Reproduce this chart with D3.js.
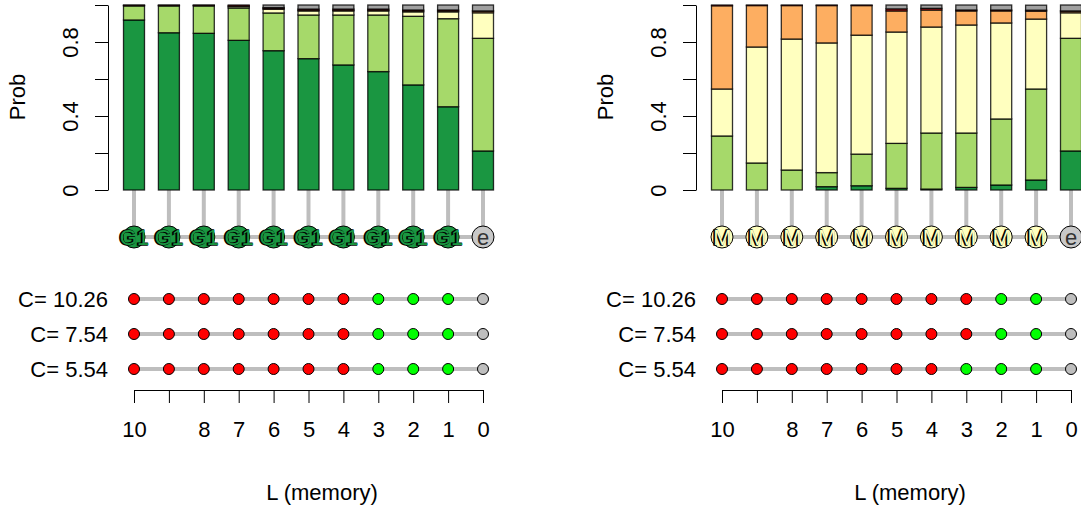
<!DOCTYPE html>
<html>
<head>
<meta charset="utf-8">
<script src="https://cdn.jsdelivr.net/npm/d3@7"></script>
<style>
  body { margin: 0; background: #fff; }
  svg { font-family: "Liberation Sans", Arial, sans-serif; }
</style>
</head>
<body>
<div id="container"></div>
<script>
const width = 1081,
  height = 511

/* DATA */
const memory = [10, 9, 8, 7, 6, 5, 4, 3, 2, 1, 0]
const tickLabels = ["10", "", "8", "7", "6", "5", "4", "3", "2", "1", "0"]
const categories = ["G1", "G2", "M", "B1", "B2", "e"]
const catColors = ["#1A9641", "#A6D96A", "#FFFFBF", "#FDAE61", "#D7191C", "#A0A0A0"]
const rowLabels = ["C= 10.26", "C= 7.54", "C= 5.54"]

// left panel
const leftG1 = [0.919, 0.850, 0.847, 0.809, 0.753, 0.710, 0.676, 0.640, 0.568, 0.450, 0.211]
const leftG2 = [0.076, 0.145, 0.148, 0.175, 0.204, 0.236, 0.270, 0.306, 0.371, 0.476, 0.609]
const leftM  = [0.003, 0.003, 0.003, 0.008, 0.020, 0.022, 0.022, 0.022, 0.024, 0.037, 0.138]
const leftB1 = [0, 0, 0, 0.004, 0.005, 0.004, 0.004, 0.004, 0.005, 0.005, 0.009]
const leftB2 = [0.002, 0.002, 0.002, 0.004, 0.004, 0.006, 0.006, 0.006, 0.005, 0.005, 0.001]
const leftE  = [0, 0, 0, 0, 0.014, 0.022, 0.022, 0.022, 0.027, 0.027, 0.032]
const leftNodes = ["G1", "G1", "G1", "G1", "G1", "G1", "G1", "G1", "G1", "G1", "e"]
const leftDots = [
  ["r", "r", "r", "r", "r", "r", "r", "g", "g", "g", "e"],
  ["r", "r", "r", "r", "r", "r", "r", "g", "g", "g", "e"],
  ["r", "r", "r", "r", "r", "r", "r", "g", "g", "g", "e"]
]

// right panel
const rightG1 = [0, 0, 0, 0.018, 0.023, 0.009, 0.005, 0.014, 0.027, 0.054, 0.211]
const rightG2 = [0.292, 0.146, 0.108, 0.076, 0.171, 0.243, 0.303, 0.294, 0.357, 0.492, 0.609]
const rightM  = [0.254, 0.627, 0.708, 0.701, 0.643, 0.602, 0.573, 0.584, 0.519, 0.378, 0.138]
const rightB1 = [0.450, 0.224, 0.181, 0.202, 0.160, 0.114, 0.092, 0.076, 0.065, 0.043, 0.009]
const rightB2 = [0.004, 0.003, 0.003, 0.003, 0.003, 0.011, 0.009, 0.005, 0.005, 0.005, 0.001]
const rightE  = [0, 0, 0, 0, 0, 0.021, 0.018, 0.027, 0.027, 0.027, 0.032]
const rightNodes = ["M", "M", "M", "M", "M", "M", "M", "M", "M", "M", "e"]
const rightDots = [
  ["r", "r", "r", "r", "r", "r", "r", "r", "g", "g", "e"],
  ["r", "r", "r", "r", "r", "r", "r", "r", "g", "g", "e"],
  ["r", "r", "r", "r", "r", "r", "r", "g", "g", "g", "e"]
]

const nodeFill = { G1: "#1A9641", M: "#FFFFBF", e: "#C8C8C8" }
const dotFill = { r: "#FF0000", g: "#00FF00", e: "#BEBEBE" }
const fs = 22

// CREATE SVG ELEMENT
const svg = d3.select("#container")
  .append("svg")
  .attr("width", width)
  .attr("height", height)

function drawPanel(dx, series, nodes, dots) {
  const g = svg.append("g").attr("transform", `translate(${dx},0)`)

  // + SCALES
  const xScale = d3.scalePoint()
    .domain(memory)
    .range([134, 483])

  const yScale = d3.scaleLinear()
    .domain([0, 1])
    .range([190, 5])

  const table = memory.map((L, i) => {
    const row = { L: L }
    categories.forEach((c, k) => row[c] = series[k][i])
    return row
  })
  const stacked = d3.stack().keys(categories)(table)

  // grey connectors bar -> node
  g.append("line")
    .attr("x1", xScale(memory[0])).attr("x2", xScale(memory[memory.length - 1]))
    .attr("y1", 237).attr("y2", 237)
    .attr("stroke", "#BEBEBE").attr("stroke-width", 4)
  g.selectAll(".conn")
    .data(memory)
    .join("line")
    .attr("class", "conn")
    .attr("x1", d => xScale(d)).attr("x2", d => xScale(d))
    .attr("y1", 190).attr("y2", 237)
    .attr("stroke", "#BEBEBE").attr("stroke-width", 4)

  // DRAW BARS
  const bw = 21
  stacked.forEach((layer, k) => {
    g.selectAll(".seg" + k)
      .data(layer.filter(d => d[1] - d[0] > 0))
      .join("rect")
      .attr("class", "seg" + k)
      .attr("x", d => xScale(d.data.L) - bw / 2)
      .attr("y", d => yScale(d[1]))
      .attr("width", bw)
      .attr("height", d => yScale(d[0]) - yScale(d[1]))
      .attr("fill", catColors[k])
      .attr("stroke", "#000")
      .attr("stroke-opacity", 0.8)
      .attr("stroke-width", 1.3)
  })

  // Y AXIS
  const yAxis = d3.axisLeft(yScale)
    .tickValues([0, 0.2, 0.4, 0.6, 0.8, 1])
    .tickSize(13)
    .tickSizeOuter(0)
    .tickFormat(d => (d === 0 ? "0" : (d === 0.4 || d === 0.8) ? d3.format(".1f")(d) : ""))
  const ya = g.append("g")
    .attr("transform", "translate(108,0)")
    .call(yAxis)
  ya.selectAll("line, path").attr("stroke", "#000")
  ya.selectAll("text")
    .attr("x", 0).attr("dy", "0.35em")
    .attr("transform", "translate(-38,0) rotate(-90)")
    .attr("text-anchor", "middle")
    .attr("font-size", fs)
    .attr("font-family", "Liberation Sans, Arial, sans-serif")
    .attr("fill", "#000")

  g.append("text")
    .attr("transform", "translate(17,97) rotate(-90)")
    .attr("text-anchor", "middle")
    .attr("dy", "0.35em")
    .attr("font-size", fs)
    .text("Prob")

  // NODES
  const nd = g.selectAll(".node")
    .data(memory.map((L, i) => ({ L: L, lab: nodes[i] })))
    .join("g")
    .attr("class", "node")
    .attr("transform", d => `translate(${xScale(d.L)},237)`)
  nd.append("circle")
    .attr("r", 11)
    .attr("fill", d => nodeFill[d.lab])
    .attr("stroke", "#000")
    .attr("stroke-width", 1)
  nd.filter(d => d.lab !== "e").append("text")
    .attr("x", -0.5)
    .attr("dy", "0.36em")
    .attr("text-anchor", "middle")
    .attr("font-size", 22)
    .attr("fill", "#000")
    .attr("stroke", "#000")
    .attr("stroke-width", 1.6)
    .text(d => d.lab)
  nd.append("text")
    .attr("x", d => d.lab === "e" ? 0 : 0.5)
    .attr("dy", "0.36em")
    .attr("text-anchor", "middle")
    .attr("font-size", 22)
    .attr("fill", d => d.lab === "e" ? "#333" : nodeFill[d.lab])
    .text(d => d.lab)

  // DOT MATRIX
  const rowY = [299, 334, 369]
  dots.forEach((row, r) => {
    g.append("line")
      .attr("x1", xScale(memory[0])).attr("x2", xScale(memory[memory.length - 1]))
      .attr("y1", rowY[r]).attr("y2", rowY[r])
      .attr("stroke", "#BEBEBE").attr("stroke-width", 4)
    g.selectAll(".dot" + r)
      .data(memory.map((L, i) => ({ L: L, c: row[i] })))
      .join("circle")
      .attr("class", "dot" + r)
      .attr("cx", d => xScale(d.L))
      .attr("cy", rowY[r])
      .attr("r", 5.5)
      .attr("fill", d => dotFill[d.c])
      .attr("stroke", "#000")
      .attr("stroke-width", 1)
    g.append("text")
      .attr("x", 108)
      .attr("y", rowY[r])
      .attr("dy", "0.35em")
      .attr("text-anchor", "end")
      .attr("font-size", fs)
      .text(rowLabels[r])
  })

  // X AXIS
  const xAxis = d3.axisBottom(xScale)
    .tickSize(13)
    .tickSizeOuter(0)
    .tickFormat((d, i) => tickLabels[i])
  const xa = g.append("g")
    .attr("transform", "translate(0,390)")
    .call(xAxis)
  xa.selectAll("line, path").attr("stroke", "#000")
  xa.selectAll("text")
    .attr("y", 47).attr("dy", null)
    .attr("font-size", fs)
    .attr("font-family", "Liberation Sans, Arial, sans-serif")
    .attr("fill", "#000")

  g.append("text")
    .attr("x", 322)
    .attr("y", 500)
    .attr("text-anchor", "middle")
    .attr("font-size", fs)
    .text("L (memory)")
}

drawPanel(0, [leftG1, leftG2, leftM, leftB1, leftB2, leftE], leftNodes, leftDots)
drawPanel(588, [rightG1, rightG2, rightM, rightB1, rightB2, rightE], rightNodes, rightDots)
</script>
</body>
</html>
